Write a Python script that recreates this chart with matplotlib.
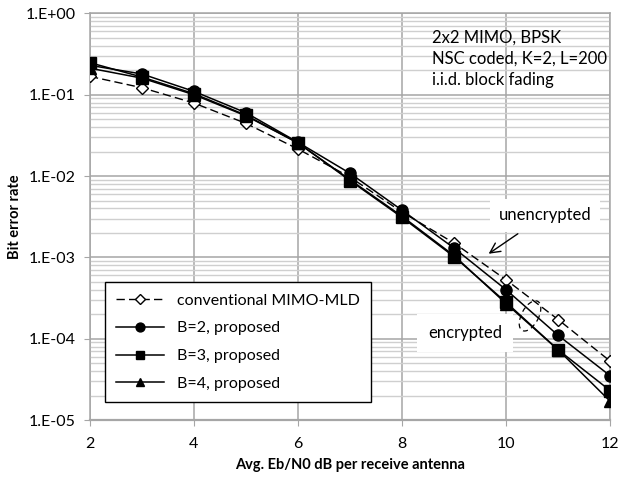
import numpy as np
import matplotlib
matplotlib.use("Agg")
import matplotlib.pyplot as plt
from matplotlib.patches import Ellipse
from matplotlib.transforms import ScaledTranslation
from matplotlib.ticker import LogLocator, NullFormatter, NullLocator

plt.rcParams['font.family'] = ['Lato', 'DejaVu Sans']

# Eb/N0 (dB) and bit error rates
snr = [2, 3, 4, 5, 6, 7, 8, 9, 10, 11, 12]
ber_conv = [0.168, 0.122, 0.079, 0.0444, 0.0215, 0.0097, 0.0036, 0.00150, 0.00053, 0.000172, 5.3e-05]
ber_b2 = [0.230, 0.180, 0.110, 0.0600, 0.0260, 0.0108, 0.0038, 0.00130, 0.00040, 0.000110, 3.5e-05]
ber_b3 = [0.248, 0.165, 0.103, 0.0560, 0.0256, 0.0088, 0.0031, 0.00102, 0.00028, 7.3e-05, 2.3e-05]
ber_b4 = [0.212, 0.160, 0.100, 0.0550, 0.0255, 0.0090, 0.0032, 0.00105, 0.00027, 7.3e-05, 1.7e-05]

labels = ['conventional MIMO-MLD', 'B=2, proposed', 'B=3, proposed', 'B=4, proposed']
ytick_vals = [1e-5, 1e-4, 1e-3, 1e-2, 1e-1, 1e0]
ytick_labels = ['1.E-05', '1.E-04', '1.E-03', '1.E-02', '1.E-01', '1.E+00']
xtick_vals = [2, 4, 6, 8, 10, 12]
info_text = '2x2 MIMO, BPSK\nNSC coded, K=2, L=200\ni.i.d. block fading'

fig = plt.figure(figsize=(6.29, 4.80), dpi=100)
ax = fig.add_axes([0.143, 0.125, 0.827, 0.847])

ax.plot(snr, ber_conv, color='black', lw=1.0, ls=(0, (6, 3)), marker='D', ms=6,
        mfc='white', mec='black', mew=1.0, label=labels[0], zorder=5)
ax.plot(snr, ber_b2, color='black', lw=1.1, marker='o', ms=8, mfc='black', label=labels[1], zorder=6)
ax.plot(snr, ber_b3, color='black', lw=1.1, marker='s', ms=8, mfc='black', label=labels[2], zorder=6)
ax.plot(snr, ber_b4, color='black', lw=1.1, marker='^', ms=8, mfc='black', label=labels[3], zorder=6)

ax.set_yscale('log')
ax.set_ylim(1e-5, 1)
ax.set_xlim(2, 12)
ax.set_yticks(ytick_vals)
ax.set_yticklabels(ytick_labels)
ax.yaxis.set_minor_locator(LogLocator(base=10, subs=np.arange(2, 10)))
ax.yaxis.set_minor_formatter(NullFormatter())
ax.set_xticks(xtick_vals)
ax.xaxis.set_minor_locator(NullLocator())

ax.grid(True, which='major', color='#a6a6a6', lw=1.1, zorder=0)
ax.grid(True, which='minor', axis='y', color='#cfcfcf', lw=1.0, zorder=0)
ax.set_axisbelow(True)
for s in ax.spines.values():
    s.set_color('#a6a6a6')
    s.set_linewidth(1.1)
ax.spines['bottom'].set_linewidth(1.6)
ax.tick_params(which='major', length=4, color='#a6a6a6', labelsize=11.5)
ax.tick_params(axis='y', pad=6)
ax.tick_params(axis='x', pad=8)
ax.tick_params(which='minor', length=0)

ax.set_xlabel('Avg. Eb/N0 dB per receive antenna', fontsize=10.5, fontweight='bold', labelpad=5)
ax.set_ylabel('Bit error rate', fontsize=10.5, fontweight='bold', labelpad=3)

ax.text(0.658, 0.960, info_text, transform=ax.transAxes, fontsize=12,
        va='top', ha='left', linespacing=1.4)

ax.annotate('', xy=(9.62, 1.06e-3), xytext=(10.27, 2.04e-3),
            arrowprops=dict(arrowstyle='->', color='black', lw=1.0, mutation_scale=18), zorder=7)
ax.text(10.75, 3.3e-3, 'unencrypted', fontsize=12, ha='center', va='center', zorder=7,
        bbox=dict(facecolor='white', edgecolor='none', pad=6))
ax.text(9.21, 1.17e-4, 'encrypted', fontsize=12, ha='center', va='center', zorder=7,
        bbox=dict(facecolor='white', edgecolor='none', pad=8))

ell_off = ScaledTranslation(0.846, 0.256, ax.transAxes)
ell = Ellipse((0, 0), width=0.33, height=0.17, angle=62, fill=False, ec='black', lw=0.9,
              ls=(0, (4, 3)), transform=fig.dpi_scale_trans + ell_off, zorder=7)
ax.add_patch(ell)

leg = ax.legend(loc='lower left', bbox_to_anchor=(0.029, 0.044), borderaxespad=0,
                fontsize=11.5, handlelength=3.0, labelspacing=0.85, borderpad=0.7,
                markerscale=0.8, fancybox=False, framealpha=1, edgecolor='black')
leg.get_frame().set_linewidth(1.0)
leg.set_zorder(8)

fig.savefig('out.png', dpi=100)
